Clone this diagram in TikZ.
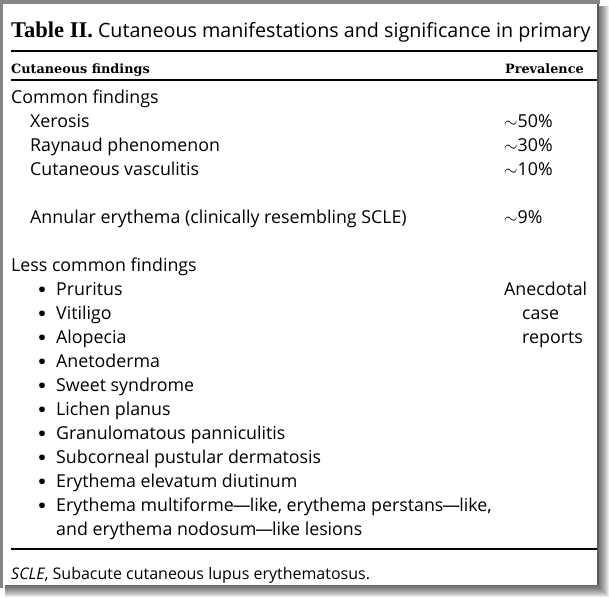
\documentclass[tikz,border=0pt]{standalone}
\usepackage{fontspec}
\setmainfont{Open Sans}
\newfontfamily\capfont{Liberation Serif}
\newfontfamily\headfont{DejaVu Serif}

\tikzset{
  body/.style={anchor=base west, inner sep=0pt, font=\fontsize{17.8}{24}\selectfont},
  colhead/.style={anchor=base west, inner sep=0pt, font=\headfont\bfseries\fontsize{12.8}{15}\selectfont},
  tablerule/.style={line width=1.8pt},
  dot/.style={fill=black}
}

\begin{document}
\begin{tikzpicture}[x=1pt, y=-1pt]
\useasboundingbox (0,0) rectangle (609,597);

% Draw the page shadow and frame
\foreach \s in {1,...,12}
  \fill[black, opacity=0.07] (5,6) rectangle (597+\s,585+\s);
\fill[white] (3,4) rectangle (597,585);
\fill[gray!95] (0,0) rectangle (600,4);
\fill[gray!95] (0,0) rectangle (3,588);
\fill[gray!70!black] (597,4) rectangle (599,585);

% Caption
\node[anchor=base west, inner sep=0pt] (title) at (11,37)
  {{\capfont\bfseries\fontsize{22.5}{26}\selectfont Table II.}\fontsize{19.7}{26}\selectfont\ Cutaneous manifestations and significance in primary};

% Rules of the table
\draw[tablerule] (11,51) -- (597,51);
\draw[tablerule] (11,80) -- (597,80);
\draw[tablerule] (11,549) -- (597,549);

% Column heads
\node[colhead] (hfind) at (11,73) {Cutaneous findings};
\node[colhead] (hprev) at (505,73) {Prevalence};

% Common findings
\node[body] (common) at (11,103) {Common findings};
\node[body] (xerosis) at (30,127) {Xerosis};
\node[body] (raynaud) at (30,151) {Raynaud phenomenon};
\node[body] (vasc) at (30,175) {Cutaneous vasculitis};
\node[body] (annular) at (30,223) {Annular erythema (clinically resembling SCLE)};
\node[body] (pxerosis) at (504,127) {$\sim$50\%};
\node[body] (praynaud) at (504,151) {$\sim$30\%};
\node[body] (pvasc) at (504,175) {$\sim$10\%};
\node[body] (pannular) at (504,223) {$\sim$9\%};

% Less common findings
\node[body] (lesscommon) at (11,271) {Less common findings};
\node[body] (pruritus) at (56,295) {Pruritus};
\node[body] (vitiligo) at (56,319) {Vitiligo};
\node[body] (alopecia) at (56,343) {Alopecia};
\node[body] (anetoderma) at (56,367) {Anetoderma};
\node[body] (sweet) at (56,391) {Sweet syndrome};
\node[body] (lichen) at (56,415) {Lichen planus};
\node[body] (granulo) at (56,439) {Granulomatous panniculitis};
\node[body] (subcorneal) at (56,463) {Subcorneal pustular dermatosis};
\node[body] (elevatum) at (56,487) {Erythema elevatum diutinum};
\node[body] (multiforme) at (56,511) {Erythema multiforme\kern-1pt—\kern-1pt like, erythema perstans\kern-1pt—\kern-1pt like,};
\node[body] (nodosum) at (56,535) {and erythema nodosum\kern-1pt—\kern-1pt like lesions};
\node[body] (anecdotal) at (504,295) {Anecdotal};
\node[body] (case) at (522,319) {case};
\node[body] (reports) at (522,343) {reports};

% Bullets
\fill[dot] (42,289.3) circle (2.9);
\fill[dot] (42,313.3) circle (2.9);
\fill[dot] (42,337.3) circle (2.9);
\fill[dot] (42,361.3) circle (2.9);
\fill[dot] (42,385.3) circle (2.9);
\fill[dot] (42,409.3) circle (2.9);
\fill[dot] (42,433.3) circle (2.9);
\fill[dot] (42,457.3) circle (2.9);
\fill[dot] (42,481.3) circle (2.9);
\fill[dot] (42,505.3) circle (2.9);

% Footnote
\node[anchor=base west, inner sep=0pt, font=\fontsize{16}{20}\selectfont] (foot) at (11,579)
  {\textit{SCLE}, Subacute cutaneous lupus erythematosus.};

\end{tikzpicture}
\end{document}
